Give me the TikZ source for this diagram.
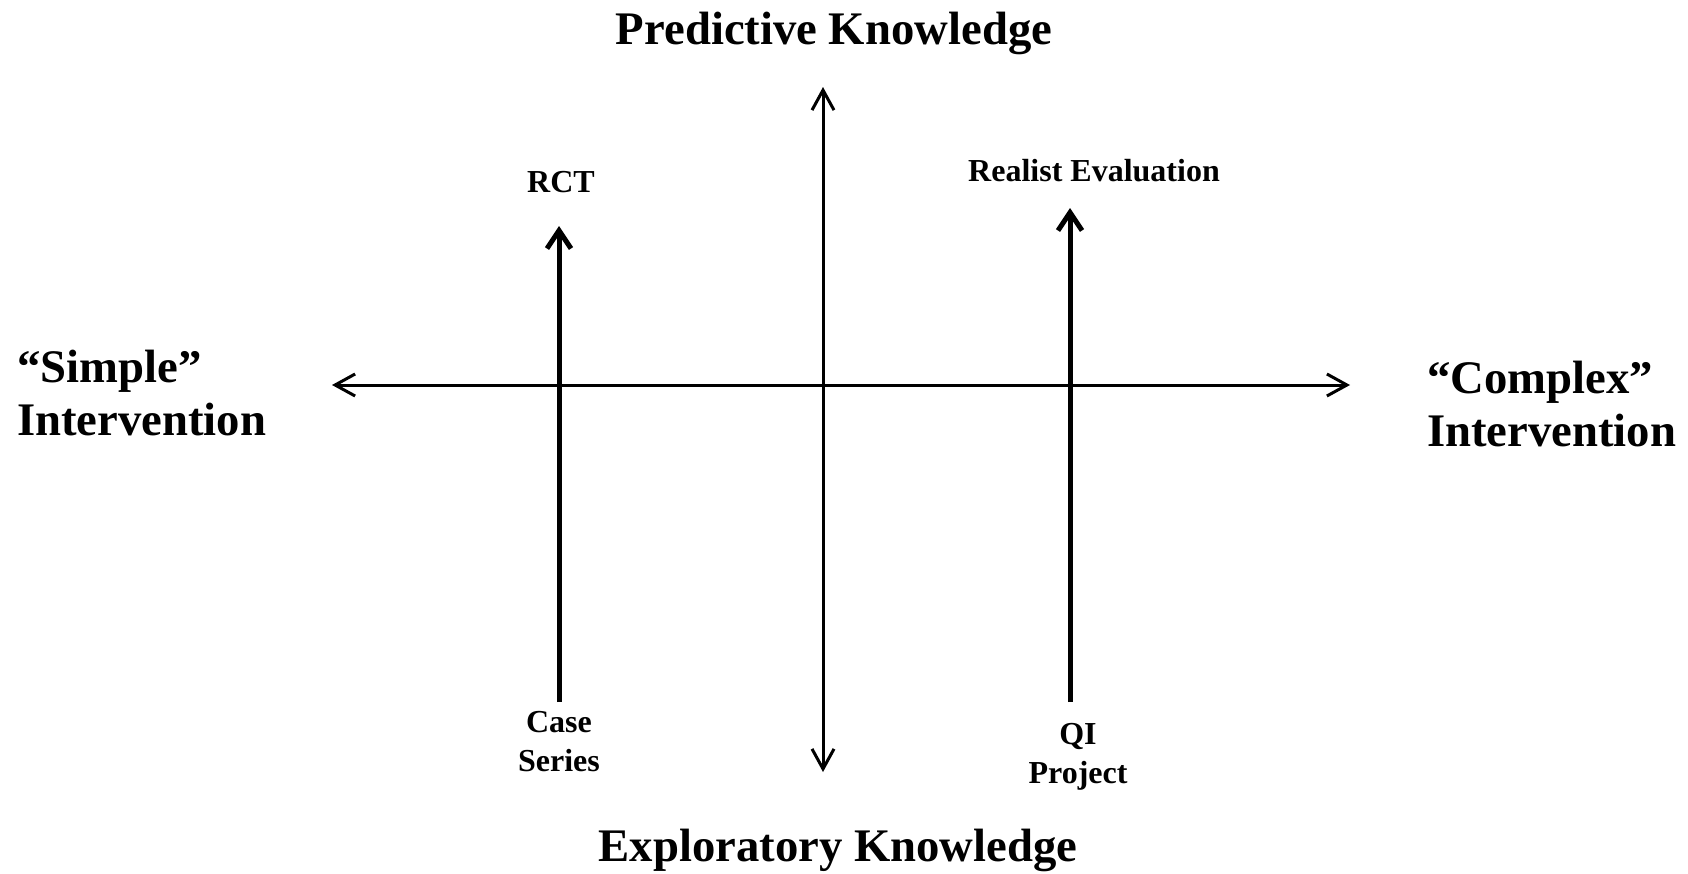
\documentclass[tikz,border=0pt]{standalone}
\usepackage{fontspec}
\setmainfont{Liberation Serif}
\usetikzlibrary{arrows.meta}
\begin{document}
\begin{tikzpicture}[x=1pt,y=-1pt,
  big/.style={font=\fontsize{46.7}{53}\selectfont\bfseries, inner sep=0pt},
  small/.style={font=\fontsize{32}{39}\selectfont\bfseries, inner sep=0pt},
  axis/.style={line width=3pt, {Straight Barb[length=20pt,width=22pt]}-{Straight Barb[length=20pt,width=22pt]}},
  thick arrow/.style={line width=5pt, -{Straight Barb[length=18pt,width=24pt]}}]
\useasboundingbox[fill=white] (0,0) rectangle (1688,873);
% axes endpoints
\coordinate (hl) at (332,385);
\coordinate (hr) at (1350,385);
\coordinate (vt) at (823,87);
\coordinate (vb) at (823,772);
\coordinate (ls) at (559,702);
\coordinate (le) at (559,226);
\coordinate (rs) at (1070,702);
\coordinate (re) at (1070,208);
\draw[axis] (hl) -- (hr);
\draw[axis] (vb) -- (vt);
\draw[thick arrow] (ls) -- (le);
\draw[thick arrow] (rs) -- (re);
% labels (multi-line nodes: base anchor is the last line)
\node[big, anchor=base] (pk) at (834,44) {Predictive Knowledge};
\node[big, anchor=base] (ek) at (838,861) {Exploratory Knowledge};
\node[big, anchor=base west, align=left] (si) at (17,435) {``Simple''\\Intervention};
\node[big, anchor=base west, align=left] (ci) at (1427,446) {``Complex''\\Intervention};
\node[small, anchor=base] (rct) at (561,192) {RCT};
\node[small, anchor=base] (rev) at (1094,181) {Realist Evaluation};
\node[small, anchor=base, align=center] (cs) at (559,771) {Case\\Series};
\node[small, anchor=base, align=center] (qi) at (1078,783) {QI\\Project};
\end{tikzpicture}
\end{document}
